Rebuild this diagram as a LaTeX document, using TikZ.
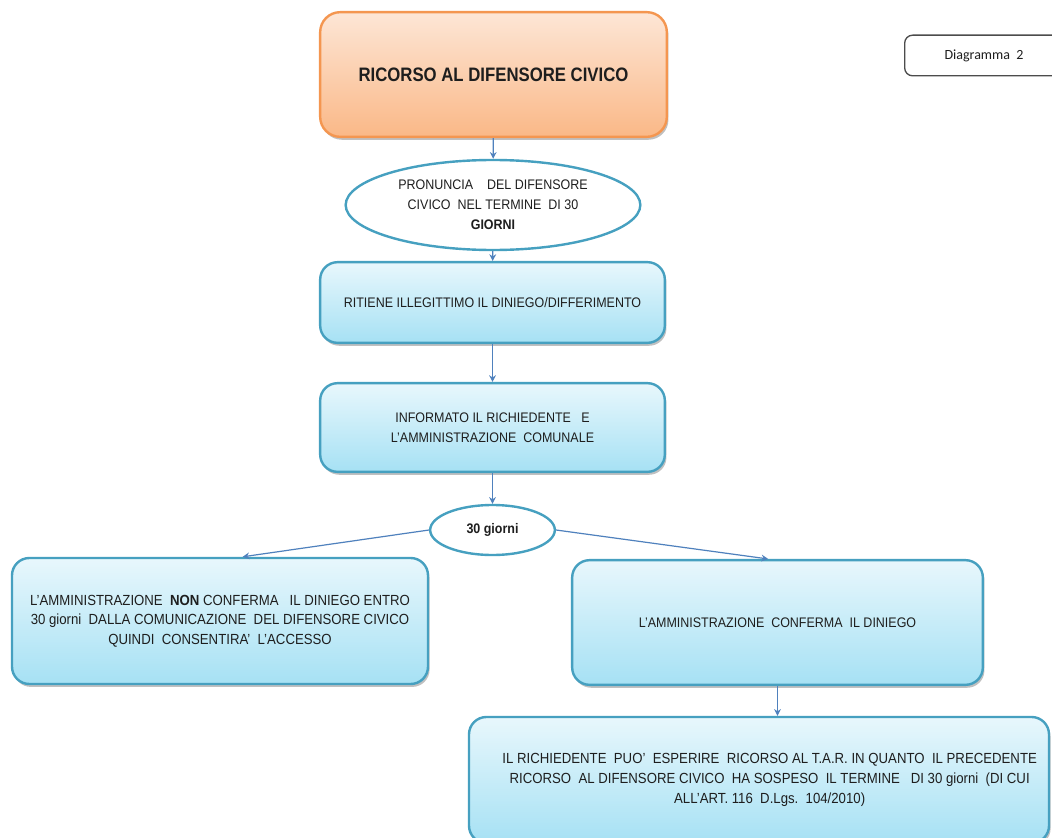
\documentclass[tikz,border=0pt]{standalone}
\usepackage{fontspec}
\setmainfont{Liberation Sans}
\newfontfamily\bodyfont[FakeStretch=0.9]{Liberation Sans}
\newfontfamily\titlefont[FakeStretch=0.86]{Liberation Sans}
\newfontfamily\tagfont{Carlito}
\usetikzlibrary{shapes.geometric,shadows,arrows.meta}

\definecolor{boxedge}{RGB}{70,160,192}
\definecolor{boxtop}{RGB}{232,247,252}
\definecolor{boxbot}{RGB}{166,225,244}
\definecolor{orgedge}{RGB}{244,150,80}
\definecolor{orgtop}{RGB}{253,230,214}
\definecolor{orgbot}{RGB}{250,184,135}
\definecolor{arrowblue}{RGB}{79,129,189}
\definecolor{txt}{RGB}{30,30,30}

\tikzset{
  softshadow/.style={drop shadow={shadow xshift=1.2pt, shadow yshift=-2.2pt, opacity=0.35, fill=black!70}},
  stepbox/.style={rectangle, rounded corners=13pt, draw=boxedge, line width=1.8pt,
    top color=boxtop, bottom color=boxbot, softshadow, align=center,
    text=txt, font=\bodyfont\fontsize{10.4}{14.8}\selectfont, inner sep=4pt},
  widetext/.style={font=\bodyfont\fontsize{11}{14.8}\selectfont},
  titlebox/.style={rectangle, rounded corners=15pt, draw=orgedge, line width=1.8pt,
    top color=orgtop, bottom color=orgbot, softshadow, align=center,
    text=txt, font=\titlefont\bfseries\fontsize{14.6}{17}\selectfont},
  oval/.style={ellipse, draw=boxedge, line width=1.8pt, fill=white, inner sep=0pt,
    align=center, text=txt, font=\bodyfont\fontsize{10.4}{15}\selectfont},
  tagbox/.style={rectangle, rounded corners=6pt, draw=black!70, line width=1pt,
    fill=white, text=txt, font=\tagfont\fontsize{10.5}{12}\selectfont},
  arr/.style={draw=arrowblue, line width=0.9pt, -{Stealth[length=5pt,width=5pt]}}
}

\begin{document}
\begin{tikzpicture}[x=0.75pt,y=-0.75pt]
\useasboundingbox (0,0) rectangle (1052,838);
\fill[white] (0,0) rectangle (1052,838);

% main column
\node[titlebox, minimum width=260pt, minimum height=93.5pt] (top) at (493.5,74.5)
  {RICORSO AL DIFENSORE CIVICO};
\node[tagbox, minimum width=119pt, minimum height=30.5pt] (tag) at (984,55.5)
  {Diagramma\ \ 2};
\node[oval, minimum width=221pt, minimum height=67.5pt] (pron) at (493,205)
  {PRONUNCIA\ \ \ \ DEL DIFENSORE\\CIVICO\ \ NEL TERMINE\ \ DI 30\\\bfseries GIORNI};
\node[stepbox, minimum width=258.5pt, minimum height=60.5pt] (ritiene) at (492.5,302.5)
  {RITIENE ILLEGITTIMO IL DINIEGO/DIFFERIMENTO};
\node[stepbox, minimum width=258.5pt, minimum height=66.5pt] (informa) at (492.5,427.5)
  {INFORMATO IL RICHIEDENTE\ \ \ E\\L’AMMINISTRAZIONE\ \ COMUNALE};
\node[oval, minimum width=93.5pt, minimum height=37.5pt,
  font=\bodyfont\bfseries\fontsize{10.4}{12}\selectfont] (giorni) at (492.5,530)
  {30 giorni};

% the two outcomes
\node[stepbox, widetext, minimum width=312pt, minimum height=94.5pt] (nonconf) at (220,621)
  {L’AMMINISTRAZIONE\ \ \textbf{NON} CONFERMA\ \ \ IL DINIEGO ENTRO\\
   30 giorni\ \ DALLA COMUNICAZIONE\ \ DEL DIFENSORE CIVICO\\
   QUINDI\ \ CONSENTIRA’\ \ L’ACCESSO};
\node[stepbox, minimum width=308pt, minimum height=93.5pt] (conf) at (777.5,622.5)
  {L’AMMINISTRAZIONE\ \ CONFERMA\ \ IL DINIEGO};
\node[stepbox, widetext, minimum width=435pt, minimum height=94.5pt] (tar) at (759,780)
  {\hspace{16pt}IL RICHIEDENTE\ \ PUO’\ \ ESPERIRE\ \ RICORSO AL T.A.R. IN QUANTO\ \ IL PRECEDENTE\\
   \hspace{16pt}RICORSO\ \ AL DIFENSORE CIVICO\ \ HA SOSPESO\ \ IL TERMINE\ \ \ DI 30 giorni\ \ (DI CUI\\
   \hspace{16pt}ALL’ART. 116\ \ D.Lgs.\ \ 104/2010)};

% connectors
\draw[arr] (top) -- (pron);
\draw[arr] (pron) -- (ritiene);
\draw[arr] (ritiene) -- (informa);
\draw[arr] (informa) -- (giorni);
\coordinate (leftin) at ([xshift=17pt]nonconf.north);
\coordinate (rightin) at ([xshift=-7pt]conf.north);
\draw[arr] (giorni.west) -- (leftin);
\draw[arr] (giorni.east) -- (rightin);
\draw[arr] (conf.south) -- (conf.south |- tar.north);
\end{tikzpicture}
\end{document}
